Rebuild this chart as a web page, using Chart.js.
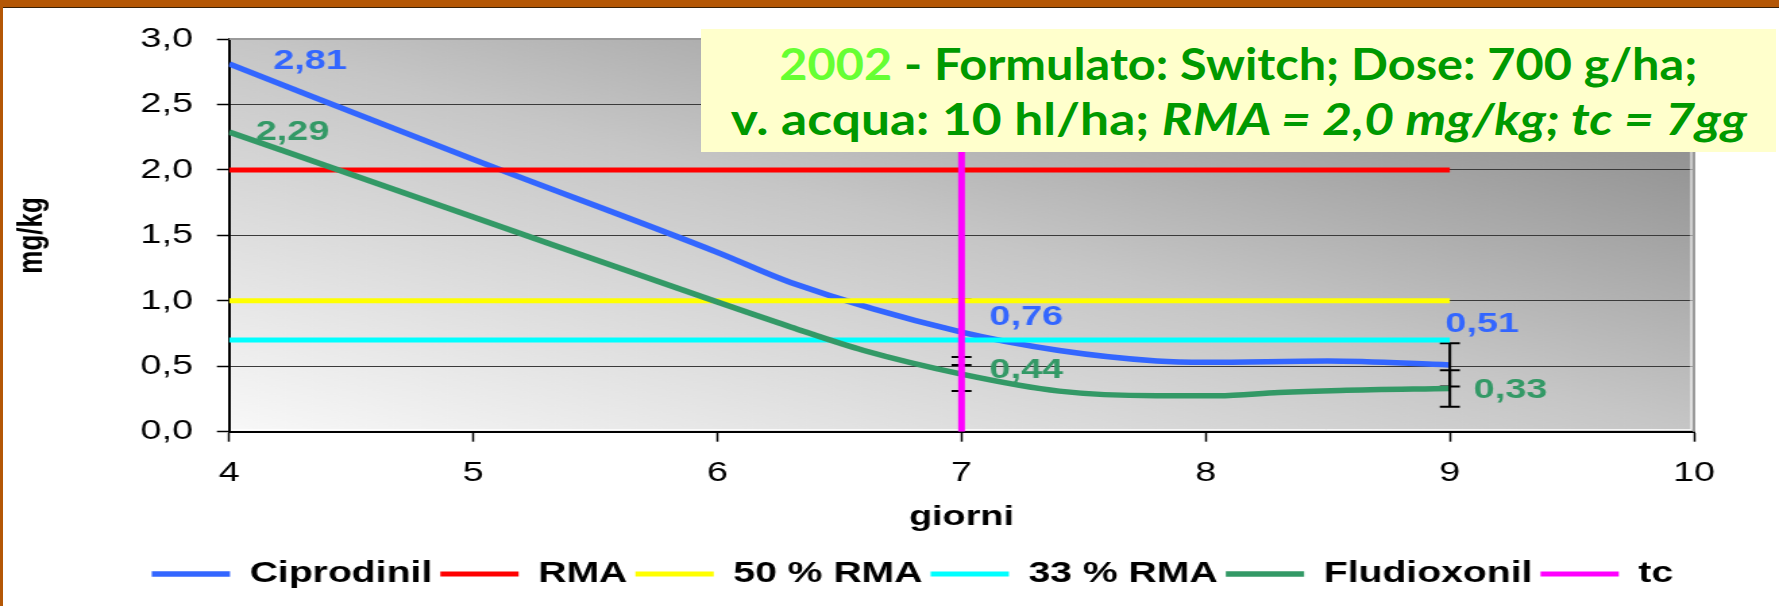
<!DOCTYPE html>
<html lang="it">

<head>
  <meta charset="UTF-8">
  <title>Residui Ciprodinil e Fludioxonil - 2002</title>
  <script src="https://cdn.jsdelivr.net/npm/chart.js"></script>
  <style>
    body {
      margin: 0;
      background: #fff;
      overflow: hidden;
    }

    #pagina {
      position: relative;
      width: 1779px;
      height: 606px;
      overflow: hidden;
      background: #fff;
    }

    /* il canvas e' disegnato stretto e poi allargato, come il grafico originale */
    #grafico {
      position: absolute;
      left: 0;
      top: 0;
    }

    .bordo-alto {
      position: absolute;
      left: 0;
      top: 0;
      width: 1779px;
      height: 7px;
      background: #b45706;
      border-bottom: 1px solid #3b2106;
    }

    .bordo-sx {
      position: absolute;
      left: 0;
      top: 0;
      width: 3px;
      height: 606px;
      background: #b45706;
    }

    #riquadro {
      position: absolute;
      left: 701px;
      top: 29px;
      width: 1075px;
      height: 123px;
      background: #ffffcc;
      color: #009900;
      font-family: "Comic Sans MS", Lato, sans-serif;
      font-weight: bold;
      font-size: 44px;
    }

    .riga {
      position: absolute;
      left: 0;
      width: 100%;
      height: 55px;
      line-height: 55px;
      text-align: center;
      white-space: nowrap;
    }

    .testo {
      display: inline-block;
      transform-origin: center;
    }

    .anno {
      color: #66ff33;
    }
  </style>
</head>

<body>
  <div id="pagina">
    <canvas id="grafico" width="1318" height="606" style="width:1779px;height:606px"></canvas>
    <div class="bordo-alto"></div>
    <div class="bordo-sx"></div>
    <div id="riquadro">
      <div class="riga" style="top:7px"><span class="testo" data-larghezza="918"><span class="anno">2002</span> - Formulato: Switch; Dose: 700 g/ha;</span></div>
      <div class="riga" style="top:62px"><span class="testo" data-larghezza="1016">v. acqua: 10 hl/ha; <i>RMA = 2,0 mg/kg; tc = 7gg</i></span></div>
    </div>
  </div>

  <script>
    // dati
    const giorniCipro = [4, 5, 6, 6.3, 7, 7.4, 7.8, 8, 8.5, 9];
    const valoriCipro = [2.81, 2.08, 1.37, 1.14, 0.76, 0.62, 0.54, 0.53, 0.54, 0.51];

    const giorniFlud = [4, 5, 6, 6.3, 6.6, 7, 7.4, 7.8, 8.05, 8.3, 8.55, 9];
    const valoriFlud = [2.29, 1.64, 0.99, 0.80, 0.62, 0.44, 0.31, 0.275, 0.275, 0.30, 0.315, 0.33];

    const giorniSoglie = [4, 9];
    const valoriRMA = [2.0, 2.0];
    const valoriRMA50 = [1.0, 1.0];
    const valoriRMA33 = [0.7, 0.7];

    const giorniTc = [7, 7];
    const valoriTc = [0, 3];

    // barre d'errore (+/-) ai giorni 7 e 9
    const giorniErrore = [7, 9];
    const erroriCipro = [0.25, 0.165];
    const erroriFlud = [0.13, 0.14];

    // etichette dei valori (giorni etichettati)
    const giorniEtichette = [4, 7, 9];

    // spostamenti delle etichette in pixel (solo stile)
    const spostCipro = { dx: [60, 48, 24], dy: [-3, -15, -41] };
    const spostFlud = { dx: [47, 48, 45], dy: [0, -4, 2] };

    const punti = (xs, ys) => xs.map((g, i) => ({ x: g, y: ys[i] }));
    const virgola = (v, d) => v.toFixed(d).replace('.', ',');

    Chart.defaults.font.family = "'Liberation Sans', Arial, sans-serif";
    Chart.defaults.color = '#000';

    // sfondo grigio sfumato dell'area del grafico
    const sfondoArea = {
      id: 'sfondoArea',
      beforeDraw(chart) {
        const { ctx, chartArea: a } = chart;
        const w = a.right - a.left, h = a.bottom - a.top;
        const cx = a.left + w / 2, cy = a.top + h / 2;
        const n = Math.hypot(w, h);
        const dx = h / n, dy = -w / n;
        const e = w * h / n;
        const g = ctx.createLinearGradient(cx - dx * e, cy - dy * e, cx + dx * e, cy + dy * e);
        g.addColorStop(0, '#f8f8f8');
        g.addColorStop(0.5, '#c6c6c6');
        g.addColorStop(1, '#7e7e7e');
        ctx.save();
        ctx.fillStyle = g;
        ctx.fillRect(a.left, a.top, w, h);
        ctx.restore();
      },
      beforeDatasetsDraw(chart) {
        const { ctx, chartArea: a } = chart;
        ctx.save();
        ctx.strokeStyle = '#9a9a9a';
        ctx.lineWidth = 2;
        ctx.beginPath();
        ctx.moveTo(a.left, a.top);
        ctx.lineTo(a.right, a.top);
        ctx.lineTo(a.right, a.bottom);
        ctx.stroke();
        ctx.strokeStyle = '#ffffff';
        ctx.lineWidth = 1;
        ctx.beginPath();
        ctx.moveTo(a.left + 2, a.bottom - 2);
        ctx.lineTo(a.right - 2, a.bottom - 2);
        ctx.lineTo(a.right - 2, a.top + 2);
        ctx.stroke();
        ctx.restore();
      }
    };

    // barre d'errore disegnate subito dopo la propria serie
    const barreErrore = {
      id: 'barreErrore',
      afterDatasetDraw(chart, args) {
        const ds = chart.data.datasets[args.index];
        if (!ds.errori) return;
        const { ctx, scales: { x, y } } = chart;
        ctx.save();
        ctx.strokeStyle = '#000';
        ds.errori.forEach((err, i) => {
          const giorno = giorniErrore[i];
          const p = ds.data.find(d => d.x === giorno);
          const px = x.getPixelForValue(giorno);
          const ySu = y.getPixelForValue(p.y + err);
          const yGiu = y.getPixelForValue(p.y - err);
          ctx.lineWidth = 2;
          ctx.beginPath();
          ctx.moveTo(px, ySu);
          ctx.lineTo(px, yGiu);
          ctx.moveTo(px - 7.4, ySu);
          ctx.lineTo(px + 7.4, ySu);
          ctx.moveTo(px - 7.4, yGiu);
          ctx.lineTo(px + 7.4, yGiu);
          ctx.stroke();
        });
        ctx.restore();
      }
    };

    // etichette con i valori
    const etichette = {
      id: 'etichette',
      afterDatasetsDraw(chart) {
        const { ctx, scales: { x, y } } = chart;
        ctx.save();
        ctx.font = "bold 28px 'Liberation Sans', Arial, sans-serif";
        ctx.textAlign = 'center';
        ctx.textBaseline = 'middle';
        chart.data.datasets.forEach(ds => {
          if (!ds.spost) return;
          ctx.fillStyle = ds.borderColor;
          giorniEtichette.forEach((giorno, i) => {
            const p = ds.data.find(d => d.x === giorno);
            ctx.fillText(virgola(p.y, 2),
              x.getPixelForValue(giorno) + ds.spost.dx[i],
              y.getPixelForValue(p.y) + ds.spost.dy[i]);
          });
        });
        ctx.restore();
      }
    };

    // sposta la legenda dove si trova nell'originale
    const posLegenda = {
      id: 'posLegenda',
      afterLayout(chart) {
        const L = chart.legend;
        const w = L.right - L.left;
        L.left = 676 - w / 2;
        L.right = 676 + w / 2;
      }
    };

    const linea = (label, data, colore, ordine) => ({
      label: label,
      data: data,
      borderColor: colore,
      backgroundColor: colore,
      borderWidth: 5,
      pointRadius: 0,
      fill: false,
      order: ordine
    });

    const dsCipro = linea('Ciprodinil', punti(giorniCipro, valoriCipro), '#3366ff', 0);
    dsCipro.cubicInterpolationMode = 'monotone';
    dsCipro.borderWidth = 5.5;
    dsCipro.errori = erroriCipro;
    dsCipro.spost = spostCipro;

    const dsFlud = linea('Fludioxonil', punti(giorniFlud, valoriFlud), '#339966', -4);
    dsFlud.cubicInterpolationMode = 'monotone';
    dsFlud.borderWidth = 5.5;
    dsFlud.errori = erroriFlud;
    dsFlud.spost = spostFlud;

    const grafico = new Chart(document.getElementById('grafico'), {
      type: 'line',
      data: {
        datasets: [
          dsCipro,
          linea('RMA', punti(giorniSoglie, valoriRMA), '#ff0000', -1),
          linea('50 % RMA', punti(giorniSoglie, valoriRMA50), '#ffff00', -2),
          linea('33 % RMA', punti(giorniSoglie, valoriRMA33), '#00ffff', -3),
          dsFlud,
          linea('tc', punti(giorniTc, valoriTc), '#ff00ff', -5)
        ]
      },
      options: {
        responsive: false,
        devicePixelRatio: 1,
        animation: false,
        events: [],
        layout: {
          padding: { left: 2, right: 63, top: 39, bottom: 7.5 }
        },
        scales: {
          x: {
            type: 'linear',
            min: 4,
            max: 10,
            afterFit: s => { s.height = 121.8; },
            ticks: {
              stepSize: 1,
              padding: 15,
              font: { size: 28 },
              color: '#000'
            },
            grid: {
              drawOnChartArea: false,
              tickLength: 10,
              tickColor: '#000',
              tickWidth: 1.5
            },
            border: { color: '#000', width: 2 },
            title: {
              display: true,
              text: 'giorni',
              font: { size: 28, weight: 'bold' },
              color: '#000',
              padding: { top: 0, bottom: 19.5 }
            }
          },
          y: {
            min: 0,
            max: 3,
            afterFit: s => { s.width = 167.7; },
            ticks: {
              stepSize: 0.5,
              padding: 17.7,
              font: { size: 28 },
              color: '#000',
              callback: v => virgola(v, 1)
            },
            grid: {
              color: c => (c.tick && c.tick.value === 3) ? '#9a9a9a' : '#3a3a3a',
              lineWidth: 1,
              tickLength: 9,
              tickColor: '#000',
              tickWidth: 1.5
            },
            border: { color: '#000', width: 2 },
            title: {
              display: true,
              text: 'mg/kg',
              font: { size: 26, weight: 'bold' },
              color: '#000',
              padding: { top: 6, bottom: 0 }
            }
          }
        },
        plugins: {
          tooltip: { enabled: false },
          legend: {
            position: 'bottom',
            labels: {
              usePointStyle: true,
              pointStyle: 'line',
              pointStyleWidth: 58,
              padding: 6,
              color: '#000',
              font: { size: 29, weight: 'bold' },
              sort: (a, b) => a.datasetIndex - b.datasetIndex
            }
          }
        }
      },
      plugins: [sfondoArea, barreErrore, etichette, posLegenda]
    });

    // adatta la larghezza delle righe del riquadro
    document.querySelectorAll('.testo').forEach(s => {
      const w = s.getBoundingClientRect().width;
      s.style.transform = 'scaleX(' + (s.dataset.larghezza / w) + ')';
    });
  </script>
</body>

</html>
